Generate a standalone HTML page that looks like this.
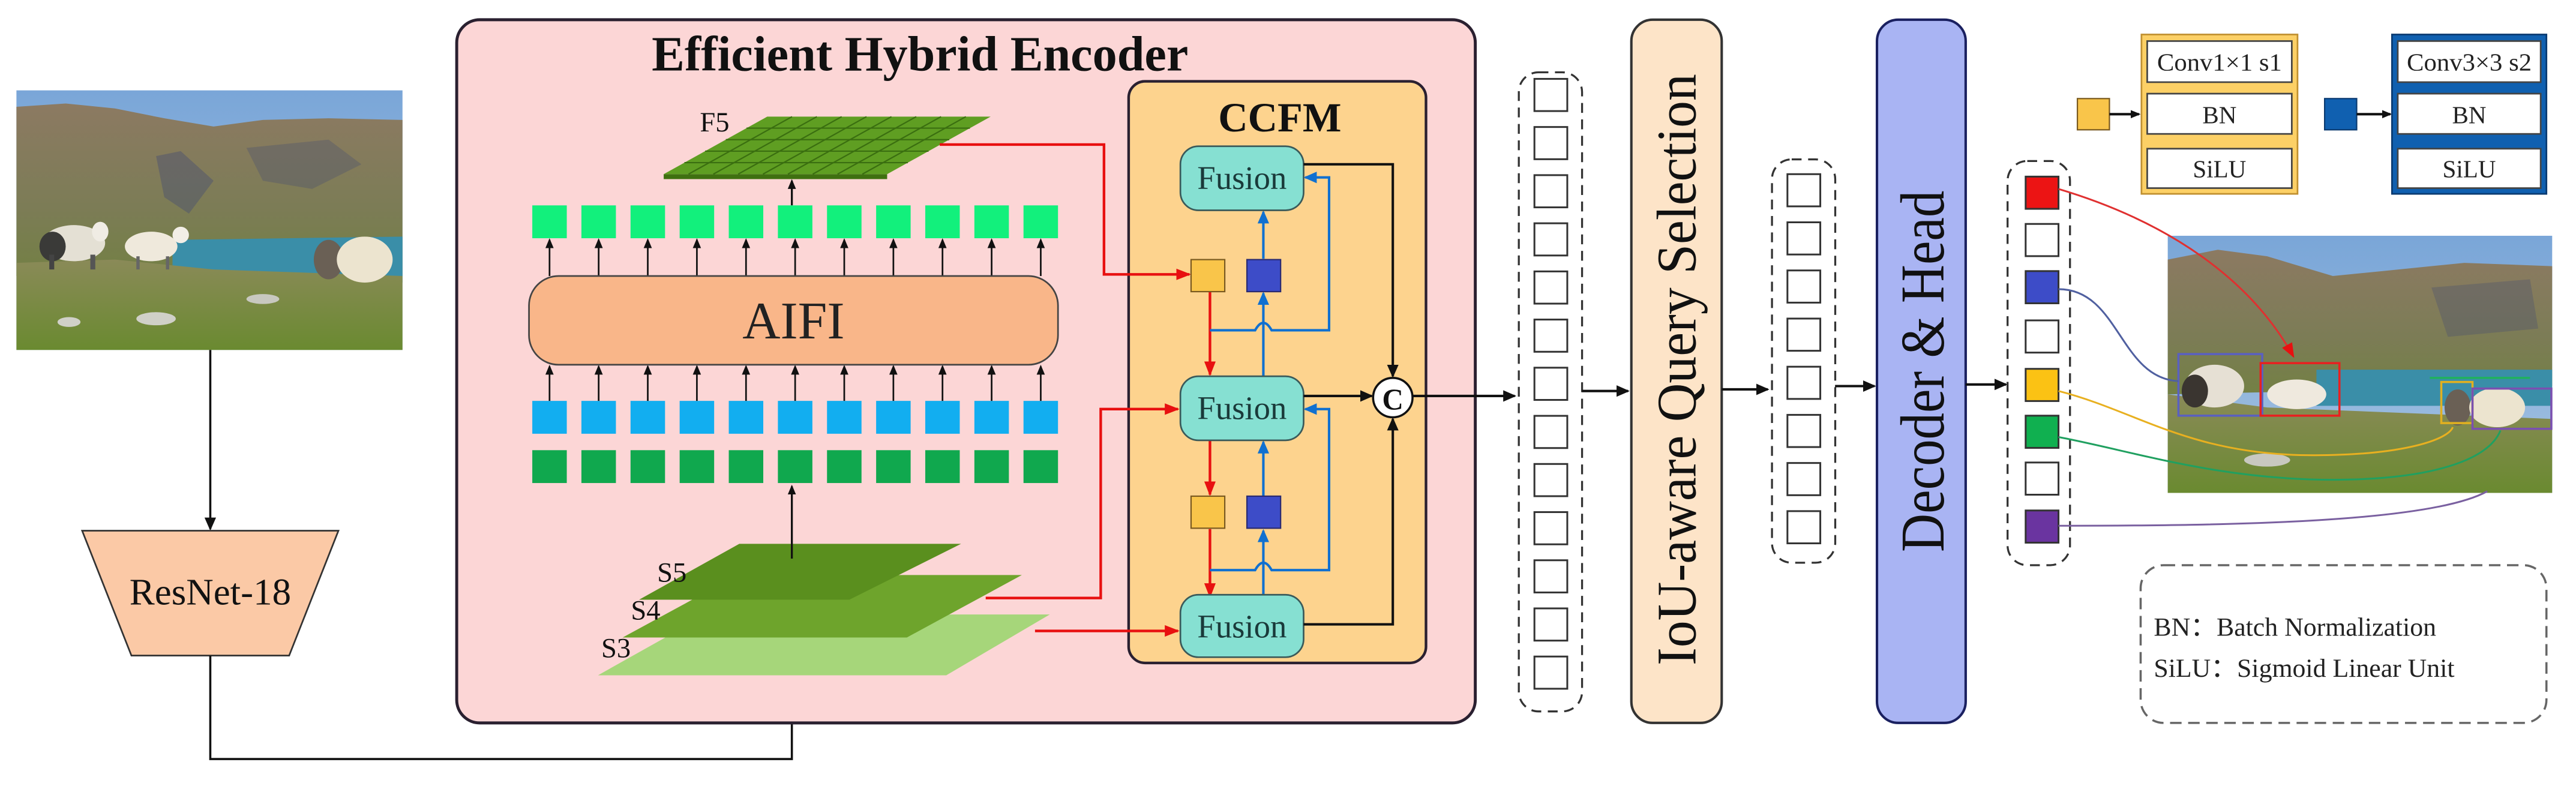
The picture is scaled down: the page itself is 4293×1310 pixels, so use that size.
<!DOCTYPE html>
<html><head><meta charset="utf-8"><style>
html,body{margin:0;padding:0;background:#fff;}
svg{display:block;}
text{font-family:"Liberation Serif",serif;}
</style></head><body>
<svg width="4293" height="1310" viewBox="0 0 1568 478.4" preserveAspectRatio="none" xmlns="http://www.w3.org/2000/svg">
<defs>
<marker id="ak" markerUnits="userSpaceOnUse" markerWidth="8" markerHeight="8" refX="7" refY="4" orient="auto"><path d="M0,0.5 L8,4 L0,7.5 Z" fill="#111"/></marker>
<marker id="ar" markerUnits="userSpaceOnUse" markerWidth="9" markerHeight="8" refX="8" refY="4" orient="auto"><path d="M0,0.5 L9,4 L0,7.5 Z" fill="#e81010"/></marker>
<marker id="ab" markerUnits="userSpaceOnUse" markerWidth="8" markerHeight="8" refX="7" refY="4" orient="auto"><path d="M0,0.5 L8,4 L0,7.5 Z" fill="#1070d0"/></marker>
<marker id="as" markerUnits="userSpaceOnUse" markerWidth="6" markerHeight="6" refX="5" refY="3" orient="auto"><path d="M0,0.5 L6,3 L0,5.5 Z" fill="#111"/></marker>
<linearGradient id="sky" x1="0" y1="0" x2="0" y2="1"><stop offset="0" stop-color="#7aa6d8"/><stop offset="1" stop-color="#a4c2e0"/></linearGradient>
<linearGradient id="mtn" x1="0" y1="0" x2="0" y2="1"><stop offset="0" stop-color="#8c7a62"/><stop offset="0.6" stop-color="#7c7c56"/><stop offset="1" stop-color="#738044"/></linearGradient>
<linearGradient id="grass" x1="0" y1="0" x2="0" y2="1"><stop offset="0" stop-color="#8a8a58"/><stop offset="1" stop-color="#6a8a30"/></linearGradient>
</defs>

<!-- Input photo -->
<g>
<rect x="10" y="55" width="235" height="158" fill="url(#sky)"/>
<path d="M10,65 L40,63 L70,66 L100,72 L130,77 L160,73 L200,72 L245,73 L245,168 L10,168 Z" fill="url(#mtn)"/>
<path d="M95,95 L110,92 L130,110 L115,130 L100,120 Z" fill="#4a5070" opacity="0.45"/>
<path d="M150,90 L200,85 L220,100 L190,115 L160,110 Z" fill="#4a5070" opacity="0.35"/>
<path d="M105,146 L245,144 L245,172 L105,170 Z" fill="#3a8ea8"/>
<path d="M10,160 L70,158 L130,164 L245,168 L245,213 L10,213 Z" fill="url(#grass)"/>
<ellipse cx="45" cy="148" rx="19" ry="11" fill="#e4e0d4"/><ellipse cx="32" cy="150" rx="8" ry="9" fill="#3a3a38"/><rect x="30" y="155" width="3" height="9" fill="#444"/><rect x="55" y="155" width="3" height="9" fill="#555"/>
<ellipse cx="61" cy="141" rx="5" ry="6" fill="#f0ece4"/>
<ellipse cx="92" cy="150" rx="16" ry="9" fill="#efe9dc"/><ellipse cx="110" cy="143" rx="5" ry="5" fill="#f2eee6"/><rect x="83" y="156" width="2" height="8" fill="#666"/><rect x="101" y="156" width="2" height="8" fill="#666"/>
<ellipse cx="200" cy="158" rx="9" ry="12" fill="#6a6055"/>
<ellipse cx="222" cy="158" rx="17" ry="14" fill="#ece4cf"/>
<ellipse cx="95" cy="194" rx="12" ry="4" fill="#d0d0c8"/><ellipse cx="42" cy="196" rx="7" ry="3" fill="#d0d0c8"/><ellipse cx="160" cy="182" rx="10" ry="3" fill="#c8c8c0"/>
</g>
<line x1="128" y1="213" x2="128" y2="322" stroke="#111" stroke-width="1.3" marker-end="url(#ak)"/>
<polygon points="50,323 206,323 176,399 80,399" fill="#fbc9a6" stroke="#333" stroke-width="1"/>
<text x="128" y="368" font-size="23" text-anchor="middle" fill="#111">ResNet-18</text>
<polyline points="128,399 128,462 482,462 482,414" fill="none" stroke="#111" stroke-width="1.3" marker-end="url(#ak)"/>

<!-- Encoder -->
<rect x="278" y="12" width="620" height="428" rx="14" fill="#fcd6d6" stroke="#2a2030" stroke-width="1.8"/>
<text x="560" y="43" font-size="30" font-weight="bold" text-anchor="middle" fill="#111">Efficient Hybrid Encoder</text>

<!-- F5 plane -->
<polygon points="404,106 540,106 540,109 404,109" fill="#3f7010"/>
<polygon points="467,71 603,71 540,106 404,106" fill="#5f9e22"/>
<g stroke="#3a6e10" stroke-width="0.8">
<line x1="482.1" y1="71" x2="419.1" y2="106"/><line x1="497.2" y1="71" x2="434.2" y2="106"/><line x1="512.3" y1="71" x2="449.3" y2="106"/><line x1="527.4" y1="71" x2="464.4" y2="106"/><line x1="542.6" y1="71" x2="479.6" y2="106"/><line x1="557.7" y1="71" x2="494.7" y2="106"/><line x1="572.8" y1="71" x2="509.8" y2="106"/><line x1="587.9" y1="71" x2="524.9" y2="106"/>
<line x1="454.4" y1="78" x2="590.4" y2="78"/><line x1="441.8" y1="85" x2="577.8" y2="85"/><line x1="429.2" y1="92" x2="565.2" y2="92"/><line x1="416.6" y1="99" x2="552.6" y2="99"/>
</g>
<text x="426" y="80" font-size="17" fill="#111">F5</text>
<line x1="482" y1="125" x2="482" y2="110" stroke="#111" stroke-width="1.2" marker-end="url(#as)"/>

<!-- squares rows -->
<g fill="#12f07c">
<rect x="324" y="125" width="21" height="20"/><rect x="353.9" y="125" width="21" height="20"/><rect x="383.8" y="125" width="21" height="20"/><rect x="413.7" y="125" width="21" height="20"/><rect x="443.6" y="125" width="21" height="20"/><rect x="473.5" y="125" width="21" height="20"/><rect x="503.4" y="125" width="21" height="20"/><rect x="533.3" y="125" width="21" height="20"/><rect x="563.2" y="125" width="21" height="20"/><rect x="593.1" y="125" width="21" height="20"/><rect x="623" y="125" width="21" height="20"/>
</g>
<g fill="#12aef0">
<rect x="324" y="244" width="21" height="20"/><rect x="353.9" y="244" width="21" height="20"/><rect x="383.8" y="244" width="21" height="20"/><rect x="413.7" y="244" width="21" height="20"/><rect x="443.6" y="244" width="21" height="20"/><rect x="473.5" y="244" width="21" height="20"/><rect x="503.4" y="244" width="21" height="20"/><rect x="533.3" y="244" width="21" height="20"/><rect x="563.2" y="244" width="21" height="20"/><rect x="593.1" y="244" width="21" height="20"/><rect x="623" y="244" width="21" height="20"/>
</g>
<g fill="#10a84e">
<rect x="324" y="274" width="21" height="20"/><rect x="353.9" y="274" width="21" height="20"/><rect x="383.8" y="274" width="21" height="20"/><rect x="413.7" y="274" width="21" height="20"/><rect x="443.6" y="274" width="21" height="20"/><rect x="473.5" y="274" width="21" height="20"/><rect x="503.4" y="274" width="21" height="20"/><rect x="533.3" y="274" width="21" height="20"/><rect x="563.2" y="274" width="21" height="20"/><rect x="593.1" y="274" width="21" height="20"/><rect x="623" y="274" width="21" height="20"/>
</g>
<g stroke="#111" stroke-width="1" marker-end="url(#as)">
<line x1="334.5" y1="168" x2="334.5" y2="146"/><line x1="364.4" y1="168" x2="364.4" y2="146"/><line x1="394.3" y1="168" x2="394.3" y2="146"/><line x1="424.2" y1="168" x2="424.2" y2="146"/><line x1="454.1" y1="168" x2="454.1" y2="146"/><line x1="484" y1="168" x2="484" y2="146"/><line x1="513.9" y1="168" x2="513.9" y2="146"/><line x1="543.8" y1="168" x2="543.8" y2="146"/><line x1="573.7" y1="168" x2="573.7" y2="146"/><line x1="603.6" y1="168" x2="603.6" y2="146"/><line x1="633.5" y1="168" x2="633.5" y2="146"/>
<line x1="334.5" y1="244" x2="334.5" y2="223"/><line x1="364.4" y1="244" x2="364.4" y2="223"/><line x1="394.3" y1="244" x2="394.3" y2="223"/><line x1="424.2" y1="244" x2="424.2" y2="223"/><line x1="454.1" y1="244" x2="454.1" y2="223"/><line x1="484" y1="244" x2="484" y2="223"/><line x1="513.9" y1="244" x2="513.9" y2="223"/><line x1="543.8" y1="244" x2="543.8" y2="223"/><line x1="573.7" y1="244" x2="573.7" y2="223"/><line x1="603.6" y1="244" x2="603.6" y2="223"/><line x1="633.5" y1="244" x2="633.5" y2="223"/>
</g>
<rect x="322" y="168" width="322" height="54" rx="18" fill="#f9b689" stroke="#444" stroke-width="1"/>
<text x="483" y="206" font-size="32" text-anchor="middle" fill="#222">AIFI</text>

<!-- S planes -->
<polygon points="430,374 639,374 576,411 364,411" fill="#a6d67a"/>
<polygon points="449,350 622,350 552,388 379,388" fill="#6ea42c"/>
<polygon points="450,331 585,331 517,365 389,365" fill="#5a8f1e"/>
<line x1="482" y1="340" x2="482" y2="296" stroke="#111" stroke-width="1.2" marker-end="url(#as)"/>
<text x="400" y="354" font-size="17" fill="#111">S5</text>
<text x="384" y="377" font-size="17" fill="#111">S4</text>
<text x="366" y="400" font-size="17" fill="#111">S3</text>

<!-- CCFM -->
<rect x="687" y="49.5" width="181" height="354" rx="10" fill="#fdd38e" stroke="#2a2030" stroke-width="1.6"/>
<text x="779" y="80" font-size="25" font-weight="bold" text-anchor="middle" fill="#111">CCFM</text>
<polyline points="572,88 672,88 672,167 724,167" fill="none" stroke="#e81010" stroke-width="1.6" marker-end="url(#ar)"/>
<polyline points="600,364 670,364 670,249 717,249" fill="none" stroke="#e81010" stroke-width="1.6" marker-end="url(#ar)"/>
<line x1="630" y1="384" x2="717" y2="384" stroke="#e81010" stroke-width="1.6" marker-end="url(#ar)"/>
<line x1="736.5" y1="177.5" x2="736.5" y2="228" stroke="#e81010" stroke-width="1.6" marker-end="url(#ar)"/>
<line x1="736.5" y1="268" x2="736.5" y2="301" stroke="#e81010" stroke-width="1.6" marker-end="url(#ar)"/>
<line x1="736.5" y1="322" x2="736.5" y2="363" stroke="#e81010" stroke-width="1.6" marker-end="url(#ar)"/>
<g fill="none" stroke="#1070d0" stroke-width="1.5">
<line x1="769" y1="229" x2="769" y2="178.5" marker-end="url(#ab)"/>
<line x1="769" y1="157.5" x2="769" y2="129" marker-end="url(#ab)"/>
<line x1="769" y1="362" x2="769" y2="323" marker-end="url(#ab)"/>
<line x1="769" y1="302" x2="769" y2="269" marker-end="url(#ab)"/>
<path d="M736.5,201 L764,201 Q769,192 774,201 L809,201 L809,108 L794.5,108" marker-end="url(#ab)"/>
<path d="M736.5,347 L764,347 Q769,338 774,347 L809,347 L809,249 L794.5,249" marker-end="url(#ab)"/>
</g>
<rect x="725" y="158" width="20.5" height="19.5" fill="#f9c54a" stroke="#7a5a20" stroke-width="0.8"/>
<rect x="759" y="158" width="20.5" height="19.5" fill="#3d4cc8" stroke="#2a2a70" stroke-width="0.8"/>
<rect x="725" y="302" width="20.5" height="19.5" fill="#f9c54a" stroke="#7a5a20" stroke-width="0.8"/>
<rect x="759" y="302" width="20.5" height="19.5" fill="#3d4cc8" stroke="#2a2a70" stroke-width="0.8"/>
<rect x="718.5" y="89" width="75" height="39" rx="11" fill="#86e0d2" stroke="#3a5a5a" stroke-width="1"/>
<rect x="718.5" y="229" width="75" height="39" rx="11" fill="#86e0d2" stroke="#3a5a5a" stroke-width="1"/>
<rect x="718.5" y="362" width="75" height="38" rx="11" fill="#86e0d2" stroke="#3a5a5a" stroke-width="1"/>
<text x="756" y="115" font-size="20" text-anchor="middle" fill="#1a3a3a">Fusion</text>
<text x="756" y="255" font-size="20" text-anchor="middle" fill="#1a3a3a">Fusion</text>
<text x="756" y="388" font-size="20" text-anchor="middle" fill="#1a3a3a">Fusion</text>
<g fill="none" stroke="#111" stroke-width="1.5">
<polyline points="793.5,100 847.8,100 847.8,229" marker-end="url(#ak)"/>
<line x1="793.5" y1="241" x2="835" y2="241" marker-end="url(#ak)"/>
<polyline points="793.5,380 847.8,380 847.8,255" marker-end="url(#ak)"/>
<line x1="860" y1="241" x2="922" y2="241" marker-end="url(#ak)"/>
</g>
<circle cx="847.8" cy="242" r="12" fill="#fff" stroke="#111" stroke-width="1.3"/>
<text x="847.8" y="249" font-size="18" font-weight="bold" text-anchor="middle" fill="#111">C</text>

<!-- Column 1 -->
<rect x="924.5" y="44" width="38.5" height="389" rx="12" fill="#fff" stroke="#333" stroke-width="1.2" stroke-dasharray="6,4"/>
<g fill="#fff" stroke="#333" stroke-width="1.1">
<rect x="934" y="48" width="20" height="19.6"/><rect x="934" y="77.3" width="20" height="19.6"/><rect x="934" y="106.6" width="20" height="19.6"/><rect x="934" y="135.9" width="20" height="19.6"/><rect x="934" y="165.2" width="20" height="19.6"/><rect x="934" y="194.5" width="20" height="19.6"/><rect x="934" y="223.8" width="20" height="19.6"/><rect x="934" y="253.1" width="20" height="19.6"/><rect x="934" y="282.4" width="20" height="19.6"/><rect x="934" y="311.7" width="20" height="19.6"/><rect x="934" y="341" width="20" height="19.6"/><rect x="934" y="370.3" width="20" height="19.6"/><rect x="934" y="399.6" width="20" height="19.6"/>
</g>
<line x1="963" y1="238" x2="991" y2="238" stroke="#111" stroke-width="1.5" marker-end="url(#ak)"/>
<rect x="993" y="12" width="55" height="428" rx="13" fill="#fde4c8" stroke="#333" stroke-width="1.5"/>
<text transform="translate(1032,225) rotate(-90)" font-size="34" text-anchor="middle" textLength="360" lengthAdjust="spacingAndGlyphs" fill="#111">IoU-aware Query Selection</text>
<line x1="1048" y1="237" x2="1076" y2="237" stroke="#111" stroke-width="1.5" marker-end="url(#ak)"/>
<rect x="1078.6" y="97" width="38.5" height="245.5" rx="12" fill="#fff" stroke="#333" stroke-width="1.2" stroke-dasharray="6,4"/>
<g fill="#fff" stroke="#333" stroke-width="1.1">
<rect x="1088" y="106" width="20" height="19.6"/><rect x="1088" y="135.3" width="20" height="19.6"/><rect x="1088" y="164.6" width="20" height="19.6"/><rect x="1088" y="193.9" width="20" height="19.6"/><rect x="1088" y="223.2" width="20" height="19.6"/><rect x="1088" y="252.5" width="20" height="19.6"/><rect x="1088" y="281.8" width="20" height="19.6"/><rect x="1088" y="311.1" width="20" height="19.6"/>
</g>
<line x1="1117" y1="235" x2="1141" y2="235" stroke="#111" stroke-width="1.5" marker-end="url(#ak)"/>
<rect x="1142.5" y="12" width="54" height="428" rx="13" fill="#a9b4f3" stroke="#1a2060" stroke-width="1.5"/>
<text transform="translate(1183,226) rotate(-90)" font-size="38" text-anchor="middle" textLength="220" lengthAdjust="spacingAndGlyphs" fill="#111">Decoder &amp; Head</text>
<line x1="1196.5" y1="234" x2="1221" y2="234" stroke="#111" stroke-width="1.5" marker-end="url(#ak)"/>
<rect x="1222" y="98" width="38" height="246" rx="12" fill="#fff" stroke="#333" stroke-width="1.2" stroke-dasharray="6,4"/>
<g stroke="#333" stroke-width="1.1">
<rect x="1233" y="107.5" width="20" height="19.6" fill="#ec1414"/>
<rect x="1233" y="136.3" width="20" height="19.6" fill="#fff"/>
<rect x="1233" y="165" width="20" height="19.6" fill="#3d4cc8"/>
<rect x="1233" y="195" width="20" height="19.6" fill="#fff"/>
<rect x="1233" y="224.5" width="20" height="19.6" fill="#fbc214"/>
<rect x="1233" y="253" width="20" height="19.6" fill="#10b050"/>
<rect x="1233" y="281.5" width="20" height="19.6" fill="#fff"/>
<rect x="1233" y="310.7" width="20" height="19.6" fill="#6a34a0"/>
</g>

<!-- Legend conv blocks -->
<rect x="1264.5" y="60" width="19.5" height="19" fill="#f9c54a" stroke="#7a5a20" stroke-width="0.8"/>
<line x1="1284" y1="69.5" x2="1302" y2="69.5" stroke="#111" stroke-width="1.5" marker-end="url(#as)"/>
<rect x="1303.5" y="21" width="95" height="97" fill="#fcd066" stroke="#c09030" stroke-width="1"/>
<g fill="#fff" stroke="#444" stroke-width="1">
<rect x="1307" y="25" width="88" height="25"/><rect x="1307" y="57" width="88" height="24.5"/><rect x="1307" y="90.5" width="88" height="24"/>
</g>
<text x="1351" y="43" font-size="15" text-anchor="middle" textLength="76" lengthAdjust="spacingAndGlyphs" fill="#222">Conv1×1 s1</text>
<text x="1351" y="75" font-size="15" text-anchor="middle" fill="#222">BN</text>
<text x="1351" y="108" font-size="15" text-anchor="middle" fill="#222">SiLU</text>
<rect x="1415" y="60" width="19.5" height="19" fill="#1060b0" stroke="#0a3a70" stroke-width="0.8"/>
<line x1="1434.5" y1="69.5" x2="1455" y2="69.5" stroke="#111" stroke-width="1.5" marker-end="url(#as)"/>
<rect x="1456" y="21" width="94" height="97" fill="#1060b0" stroke="#0a3a70" stroke-width="1"/>
<g fill="#fff" stroke="#444" stroke-width="1">
<rect x="1459.5" y="25" width="87" height="25"/><rect x="1459.5" y="57" width="87" height="24.5"/><rect x="1459.5" y="90.5" width="87" height="24"/>
</g>
<text x="1503" y="43" font-size="15" text-anchor="middle" textLength="76" lengthAdjust="spacingAndGlyphs" fill="#222">Conv3×3 s2</text>
<text x="1503" y="75" font-size="15" text-anchor="middle" fill="#222">BN</text>
<text x="1503" y="108" font-size="15" text-anchor="middle" fill="#222">SiLU</text>

<!-- Output photo -->
<g>
<rect x="1319.5" y="143.5" width="234" height="156.5" fill="url(#sky)"/>
<path d="M1319.5,158 L1350,152 L1380,156 L1420,168 L1450,165 L1500,160 L1553.5,162 L1553.5,235 L1319.5,240 Z" fill="url(#mtn)"/>
<path d="M1480,175 L1540,170 L1545,200 L1490,205 Z" fill="#4a5070" opacity="0.35"/>
<rect x="1410" y="225" width="143.5" height="22" fill="#3a8ea8"/>
<path d="M1319.5,240 L1380,248 L1430,250 L1553.5,255 L1553.5,300 L1319.5,300 Z" fill="url(#grass)"/>
<ellipse cx="1348" cy="235" rx="18" ry="13" fill="#e6e0d4"/><ellipse cx="1336" cy="238" rx="8" ry="10" fill="#3a3530"/>
<ellipse cx="1398" cy="240" rx="18" ry="9" fill="#efe9de"/>
<ellipse cx="1496" cy="248" rx="8" ry="11" fill="#6a6055"/>
<ellipse cx="1520" cy="248" rx="17" ry="12" fill="#ece4cf"/>
<ellipse cx="1380" cy="280" rx="14" ry="4" fill="#c8c8c0"/>
<g fill="none" stroke-width="1.3">
<rect x="1326" y="215.5" width="51" height="37.5" stroke="#5a60c0"/>
<rect x="1376" y="221" width="48" height="32" stroke="#e82020"/>
<rect x="1486" y="232.5" width="19" height="25" stroke="#e0b020"/>
<rect x="1505" y="236.5" width="48" height="24.5" stroke="#7a50b0"/>
<line x1="1479" y1="230" x2="1540" y2="230" stroke="#20b060"/>
</g>
</g>
<g fill="none" stroke-width="1.1">
<path d="M1253,115 C1320,135 1370,170 1396,217" stroke="#e03030" marker-end="url(#ar)"/>
<path d="M1253,176 C1290,176 1290,230 1326,232" stroke="#5060a0"/>
<path d="M1253,238 C1300,250 1330,275 1400,277 C1460,278 1490,268 1493,260" stroke="#e8b020"/>
<path d="M1253,266 C1300,275 1350,292 1420,292 C1480,292 1515,280 1522,262" stroke="#20a060"/>
<path d="M1253,320 C1360,320 1480,318 1514,299" stroke="#7a60a0"/>
</g>

<rect x="1303" y="344" width="247" height="96" rx="14" fill="#fff" stroke="#666" stroke-width="1.3" stroke-dasharray="7,4"/>
<text x="1311" y="387" font-size="16" fill="#222">BN：Batch Normalization</text>
<text x="1311" y="412" font-size="16" fill="#222">SiLU：Sigmoid Linear Unit</text>
</svg>
</body></html>
